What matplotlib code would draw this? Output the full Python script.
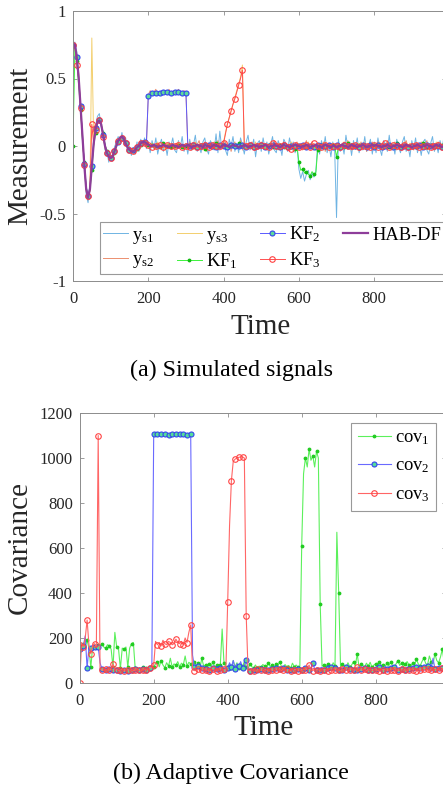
import numpy as np
import matplotlib.pyplot as plt

plt.rcParams['font.family'] = 'Liberation Serif'
plt.rcParams['mathtext.fontset'] = 'custom'
plt.rcParams['mathtext.rm'] = 'Liberation Serif'
plt.rcParams['mathtext.it'] = 'Liberation Serif:italic'
plt.rcParams['axes.unicode_minus'] = False

# time axis, one sample every 5 steps
t = np.arange(0, 1000, 5)

# ---- (a) sensor readings and filter outputs, in hundredths ----
ys1 = [75, 77, 70, 49, 33, 5, -12, -36, -42, -30, -18, 5, 15, 22, 24, 14, 11, -3, -4, -12,
       -6, -11, -1, 3, 7, 3, 10, 2, 6, -5, 0, -7, -1, -6, 3, -4, 5, 0, 6, -2,
       3, -5, 4, -2, 6, -6, 1, 5, -4, 2, -7, 3, 0, 6, -3, -5, 4, -1, 7, -4,
       2, -6, 5, -3, 1, 8, -4, 0, -5, 3, 6, -2, -6, 4, 1, -3, 9, -5, 11, -2,
       4, -3, -7, 5, 0, 7, -4, 2, -5, 6, 1, -6, 3, 8, -3, -1, 5, -8, 2, 4,
       -4, 6, -2, 3, -6, 1, 7, -3, -5, 4, 0, -7, 5, 2, -4, 6, -1, 3, -5, 1,
       -17, -24, -19, -26, -21, -18, -25, -20, -23, -19, 2, -6, 4, -3, 7, -5, 1, -8, 3, -2,
       -53, 5, -4, 2, -6, 8, -1, 3, -7, 4, -2, 6, -5, 1, -3, 7, -4, 0, 5, -6,
       3, -5, 6, -2, -7, 4, 1, -4, 8, -3, 2, -6, 5, -1, -5, 3, 7, -4, 0, -8,
       4, -2, 6, -5, 1, -7, 3, 5, -3, -6, 2, 7, -4, 1, -5, 4, -2, 6, -3, 2]
ys2 = [73, 76, 64, 54, 28, 10, -16, -31, -40, -33, -13, 1, 14, 17, 21, 15, 9, -2, -6, -7,
       -10, -7, -5, 2, 3, 7, 6, 4, 3, -2, -2, -5, -3, -4, 0, 1, 3, 2, 4, 1,
       38, 41, 39, 40, 42, 38, 40, 39, 41, 40, 38, 42, 39, 40, 41, 39, 42, 38, 40, 41,
       40, -2, 3, -1, 2, -3, 1, 4, -2, 0, 3, -4, 2, -1, 1, 3, -2, 4, -3, 1,
       -2, 3, -1, 2, -4, 1, 3, -2, 0, 4, -3, 1, -1, 2, -2, 3, 0, -3, 2, -1,
       3, -1, 2, -3, 1, 0, -2, 4, -1, 2, -3, 1, 3, -2, 0, -1, 2, -4, 1, 3,
       -1, 2, -3, 1, 4, -2, 0, 3, -1, -3, 2, 1, -2, 3, -4, 0, 2, -1, 1, -2,
       2, -3, 1, 0, 3, -2, 4, -1, -3, 2, 0, 1, -2, 3, -1, 2, -4, 1, 0, 3,
       -2, 1, 3, -1, 2, -3, 0, 4, -2, 1, -1, 3, -3, 2, 0, -2, 1, 4, -1, 2,
       1, -3, 2, 0, -2, 3, -1, 1, 4, -2, 0, 2, -3, 1, 3, -1, -2, 2, 0, 1]
ys3 = [74, 74, 67, 51, 31, 7, -14, -34, -38, -31, 80, 3, 11, 19, 18, 17, 7, 1, -4, -9,
       -8, -9, -3, 1, 5, 5, 8, 5, 1, 0, -4, -3, -5, -2, -1, 1, 2, 4, 2, 3,
       1, -2, 2, 0, -1, 3, -2, 1, 0, -3, 2, 1, -1, 2, -2, 0, 3, -1, 1, -2,
       0, 2, -1, 1, -2, 3, 0, -1, 2, -3, 1, 0, 2, -2, 1, -1, 3, 0, -2, 1,
       3, 10, 16, 21, 26, 31, 36, 41, 46, 51, 60, -1, 2, -2, 1, 0, -1, 3, -2, 1,
       -1, 2, 0, -2, 1, 3, -1, 0, 2, -3, 1, -1, 2, 0, -2, 1, 3, -2, 0, 1,
       2, -1, 1, 0, -2, 3, -1, 2, 0, -3, 1, 2, -1, 0, 3, -2, 1, -1, 2, 0,
       -1, 2, 0, 1, -2, 3, -1, 0, 2, -1, 1, -3, 2, 0, -1, 3, -2, 1, 0, -1,
       2, 0, -1, 3, -2, 1, 0, -1, 2, -3, 1, 2, -1, 0, 1, -2, 3, 0, -1, 2,
       0, -1, 2, 1, -2, 0, 3, -1, 1, -2, 2, 0, -1, 3, -2, 1, 0, 2, -1, 1]
kf1 = [0, 73, 63, 45, 27, 5, -12, -30, -38, -33, -18, 0, 10, 17, 20, 16, 10, 1, -4, -7,
       -8, -8, -5, -1, 3, 5, 6, 5, 3, 0, -2, -3, -4, -3, -2, 0, 1, 2, 2, 2,
       1, 0, 1, -1, 0, 1, -1, 0, 2, -1, 0, 1, -1, 1, 0, -1, 1, 0, -1, 1,
       0, -1, 1, 0, -1, 2, 0, -1, 1, 0, -2, 1, 0, 1, -1, 0, 2, -1, 1, 0,
       1, 0, -1, 1, 0, -1, 1, 0, 2, -1, 0, 1, -1, 0, 1, -2, 0, 1, 0, -1,
       0, 1, -1, 0, 1, 0, -1, 2, 0, -1, 1, 0, -1, 1, 0, 1, -1, 0, -2, 0,
       -12, -18, -17, -20, -19, -21, -22, -19, -21, -20, -3, -1, 1, 0, -1, 1, 0, -2, 1, 0,
       -8, -1, 0, 1, -1, 0, 2, -1, 0, 1, -1, 0, 1, -2, 0, 1, 0, -1, 1, 0,
       1, -1, 0, 2, -1, 0, 1, 0, -1, 1, 0, -1, 2, 0, -1, 1, 0, 1, -1, 0,
       0, 1, -1, 0, 1, -1, 2, 0, -1, 0, 1, -1, 0, 1, 0, -2, 1, 0, 1, -1]
kf2 = [75, 75, 66, 49, 30, 8, -13, -30, -37, -30, -15, 2, 13, 18, 19, 15, 8, 1, -5, -8,
       -9, -8, -4, 0, 3, 6, 6, 5, 2, -1, -3, -4, -3, -3, -1, 0, 2, 2, 3, 2,
       37, 38, 39, 39, 39, 40, 39, 39, 40, 39, 40, 40, 39, 40, 40, 39, 40, 40, 39, 39,
       39, 1, 0, -1, 1, 0, -1, 1, 0, -1, 1, 0, 1, -1, 0, 1, -1, 0, 1, 0,
       0, 1, -1, 0, 1, -1, 0, 1, 0, -1, 1, 0, -1, 0, 1, 0, -1, 1, 0, -1,
       1, 0, -1, 1, 0, 0, 1, -1, 0, 1, -1, 0, 1, 0, -1, 1, 0, -1, 0, 1,
       0, -1, 1, 0, -1, 1, 0, 1, -1, 0, 1, -1, 0, 1, 0, -1, 1, 0, -1, 0,
       1, 0, -1, 0, 1, -1, 0, 1, 0, -1, 0, 1, -1, 0, 1, 0, -1, 0, 1, 0,
       -1, 0, 1, 0, -1, 1, 0, -1, 1, 0, -1, 0, 1, 0, -1, 1, 0, 1, -1, 0,
       0, 1, 0, -1, 1, 0, -1, 0, 1, -1, 0, 1, 0, -1, 0, 1, -1, 0, 1, 0]
kf3 = [75, 74, 60, 50, 28, 7, -14, -32, -37, -33, 16, 1, 12, 17, 19, 16, 7, 0, -5, -8,
       -9, -7, -4, 1, 4, 6, 6, 5, 2, -1, -3, -4, -4, -3, -1, 0, 2, 3, 2, 2,
       1, 0, -1, 1, 0, -1, 1, 0, -1, 0, 1, -1, 0, 1, 0, -1, 1, 0, -1, 1,
       0, 1, -1, 0, 1, 0, -1, 1, 0, -1, 1, 0, -1, 0, 1, -1, 0, 1, 0, -1,
       2, 9, 16, 21, 26, 31, 35, 40, 45, 50, 56, 1, 0, -1, 1, 0, -1, 1, 0, -1,
       1, -1, 0, 1, -1, 0, 2, -1, 0, 1, 0, -1, 1, 0, -1, 1, -2, 0, 1, 0,
       -1, 1, 0, -1, 1, 0, -1, 0, 2, -1, 0, 1, -1, 0, 1, 0, -1, 1, 0, -1,
       0, 1, -1, 0, 1, -1, 0, 1, 0, -2, 1, 0, -1, 1, 0, -1, 0, 1, -1, 0,
       1, 0, -1, 1, 0, -1, 2, 0, -1, 0, 1, -1, 0, 1, -1, 0, 1, 0, -1, 1,
       0, -1, 1, 0, -1, 1, 0, -1, 0, 1, -1, 2, 0, -1, 1, 0, -1, 1, 0, -1]
hab = [74, 75, 66, 51, 30, 8, -14, -32, -38, -32, -15, 2, 12, 18, 19, 16, 8, 0, -5, -8,
       -9, -8, -4, 0, 4, 6, 7, 5, 2, -1, -3, -4, -4, -3, -1, 0, 2, 3, 3, 2,
       1, 0, 0, 1, 0, -1, 0, 0, 1, 0, 0, -1, 0, 1, 0, 0, -1, 0, 1, 0,
       0, 1, 0, -1, 0, 0, 1, 0, 0, -1, 1, 0, 0, -1, 0, 1, 0, 0, -1, 0,
       1, 0, 0, -1, 0, 1, 0, 0, -1, 0, 0, 1, 0, -1, 0, 0, 1, 0, 0, -1,
       0, 0, 1, 0, -1, 0, 0, 1, 0, 0, -1, 0, 1, 0, 0, -1, 0, 0, 1, 0,
       0, -1, 0, 0, 1, 0, -1, 0, 0, 1, 0, 0, -1, 0, 1, 0, 0, -1, 0, 0,
       -1, 0, 0, 1, 0, 0, -1, 0, 1, 0, 0, -1, 0, 0, 1, 0, -1, 0, 0, 1,
       0, 1, 0, 0, -1, 0, 0, 1, 0, -1, 0, 0, 1, 0, 0, -1, 0, 1, 0, 0,
       -1, 0, 0, 1, 0, -1, 0, 0, 1, 0, 0, -1, 0, 1, 0, 0, -1, 0, 0, 1]

# ---- (b) adaptive covariance of each filter ----
cov1 = [165, 150, 175, 160, 190, 155, 70, 160, 165, 150, 170, 165, 175, 160, 155, 170, 165, 150, 70, 225,
        160, 150, 65, 155, 150, 160, 70, 155, 175, 180, 65, 70, 60, 65, 70, 62, 68, 60, 66, 64,
        70, 85, 95, 72, 100, 80, 68, 90, 75, 110, 70, 85, 78, 95, 72, 88, 80, 120, 75, 92,
        85, 75, 95, 70, 90, 65, 110, 75, 80, 68, 85, 72, 95, 70, 78, 82, 80, 240, 90, 75,
        70, 85, 65, 100, 72, 90, 68, 80, 75, 95, 70, 60, 85, 72, 68, 80, 65, 75, 70, 82,
        75, 68, 90, 72, 80, 65, 85, 70, 95, 75, 68, 82, 70, 78, 65, 88, 72, 80, 70, 75,
        610, 930, 1000, 960, 1040, 990, 1010, 960, 1030, 1000, 350, 75, 80, 70, 85, 72, 68, 90, 75, 670,
        400, 70, 85, 75, 68, 90, 72, 80, 95, 75, 130, 70, 85, 78, 72, 88, 75, 92, 70, 80,
        85, 72, 95, 78, 80, 70, 88, 75, 92, 80, 70, 85, 100, 78, 90, 72, 85, 95, 80, 75,
        90, 80, 105, 85, 75, 95, 110, 88, 80, 120, 95, 85, 130, 100, 90, 115, 150, 95, 105, 150]
cov2 = [150, 160, 165, 210, 65, 160, 155, 165, 160, 158, 160, 90, 62, 58, 60, 55, 62, 58, 60, 55,
        58, 62, 55, 60, 57, 63, 55, 58, 60, 56, 62, 55, 59, 57, 61, 55, 58, 62, 66, 72,
        1105, 1106, 1105, 1104, 1105, 1106, 1105, 1105, 1104, 1106, 1105, 1105, 1106, 1104, 1105, 1105, 1106, 1105, 1104, 1105,
        1105, 124, 70, 60, 75, 58, 65, 55, 62, 70, 58, 60, 65, 55, 62, 58, 68, 60, 57, 63,
        65, 90, 70, 100, 62, 85, 75, 95, 68, 80, 102, 60, 55, 62, 58, 65, 57, 60, 63, 58,
        60, 65, 58, 70, 62, 57, 68, 60, 64, 58, 66, 61, 57, 63, 59, 67, 60, 58, 62, 65,
        58, 62, 65, 60, 57, 66, 90, 62, 58, 64, 60, 70, 57, 63, 68, 60, 72, 58, 65, 62,
        60, 66, 58, 63, 70, 57, 62, 68, 60, 65, 58, 72, 61, 57, 66, 62, 59, 70, 60, 64,
        62, 58, 70, 65, 60, 75, 62, 58, 66, 60, 70, 63, 58, 68, 61, 65, 59, 72, 62, 60,
        66, 60, 72, 58, 65, 62, 70, 60, 75, 64, 68, 110, 62, 70, 65, 72, 68, 80, 62, 70]
cov3 = [0, 180, 160, 200, 280, 170, 130, 165, 175, 160, 1100, 62, 58, 55, 62, 57, 60, 58, 85, 56,
        60, 55, 58, 62, 54, 57, 60, 56, 59, 55, 58, 61, 56, 54, 58, 60, 57, 62, 65, 70,
        80, 185, 170, 180, 165, 190, 175, 170, 185, 180, 170, 175, 195, 180, 175, 185, 170, 200, 180, 225,
        258, 60, 55, 58, 62, 54, 57, 60, 56, 59, 55, 58, 61, 56, 54, 58, 60, 57, 62, 56,
        360, 700, 900, 985, 995, 1000, 1003, 1005, 1005, 1000, 300, 58, 55, 60, 54, 57, 62, 56, 59, 55,
        57, 60, 55, 62, 58, 54, 60, 57, 63, 55, 59, 56, 61, 58, 54, 60, 57, 62, 55, 58,
        56, 60, 58, 63, 80, 57, 55, 61, 58, 60, 54, 62, 57, 59, 55, 61, 58, 56, 60, 57,
        58, 55, 62, 57, 60, 54, 59, 63, 56, 58, 72, 55, 60, 57, 62, 54, 59, 61, 56, 58,
        60, 57, 55, 62, 58, 61, 54, 59, 57, 63, 56, 60, 55, 58, 62, 57, 60, 54, 59, 61,
        57, 62, 55, 60, 58, 54, 61, 57, 63, 56, 59, 55, 62, 58, 60, 54, 66, 57, 61, 58]

meas_ticks = [-1, -0.5, 0, 0.5, 1]
meas_ticklabels = ['-1', '-0.5', '0', '0.5', '1']
time_ticks = [0, 200, 400, 600, 800]
cov_ticks = [0, 200, 400, 600, 800, 1000, 1200]

W, H = 443, 787
fig = plt.figure(figsize=(W / 100, H / 100), dpi=100)


def style_axes(ax):
    for s in ax.spines.values():
        s.set_color('#8c8c8c')
        s.set_linewidth(0.7)
    ax.tick_params(direction='in', top=True, right=True, length=3, width=0.6,
                   color='#8c8c8c', labelcolor='#262626', labelsize=12)
    ax.tick_params(axis='x', pad=7.5)
    ax.tick_params(axis='y', pad=5)


# ---------------- (a) Simulated signals ----------------
ax1 = fig.add_axes([73 / W, 1 - 281 / H, 372.7 / W, 270 / H])
h = 100.0
ax1.plot(t, np.array(ys1) / h, color='#6fb4e3', lw=0.7, label=r'y$_{\mathrm{s1}}$')
ax1.plot(t, np.array(ys2) / h, color='#ec8f6f', lw=0.7, label=r'y$_{\mathrm{s2}}$')
ax1.plot(t, np.array(ys3) / h, color='#f3cf6e', lw=0.7, label=r'y$_{\mathrm{s3}}$')
ax1.plot(t, np.array(kf1) / h, color='#3cf23c', lw=0.7, marker='.', ms=3.5,
         mfc='#11bb11', mec='#11bb11', markevery=2, label=r'KF$_1$')
ax1.plot(t, np.array(kf2) / h, color='#5a5aff', lw=0.7, marker='o', ms=3.6,
         mfc='#5ddc9a', mec='#3344ee', mew=0.8, markevery=2, label=r'KF$_2$')
ax1.plot(t, np.array(kf3) / h, color='#ff5050', lw=0.7, marker='o', ms=4,
         mfc='none', mec='#ff4040', mew=0.8, markevery=2, label=r'KF$_3$')
ax1.plot(t, np.array(hab) / h, color='#8e3d9a', lw=1.6, label='HAB-DF')

ax1.set_xlim(0, 990)
ax1.set_ylim(-1, 1)
ax1.set_xticks(time_ticks)
ax1.set_yticks(meas_ticks)
ax1.set_yticklabels(meas_ticklabels)
style_axes(ax1)

leg1 = ax1.legend(ncol=4, loc='upper left', bbox_to_anchor=(100 / W, 1 - 222 / H),
                  bbox_transform=fig.transFigure, fontsize=13.3, frameon=True,
                  fancybox=False, framealpha=1, edgecolor='#999999',
                  handlelength=1.35, handletextpad=0.25, columnspacing=1.2,
                  labelspacing=0.3, borderpad=0.15, borderaxespad=0)
leg1.get_frame().set_linewidth(0.8)

fig.text(20 / W, 1 - 146 / H, 'Measurement', rotation=90, ha='center', va='center',
         fontsize=21, color='#262626')
fig.text(261 / W, 1 - 327 / H, 'Time', ha='center', va='center', fontsize=21,
         color='#262626')
fig.text(231 / W, 1 - 370 / H, '(a) Simulated signals', ha='center', va='center',
         fontsize=17.3, color='black')

# ---------------- (b) Adaptive Covariance ----------------
ax2 = fig.add_axes([79.7 / W, 1 - 683 / H, 366.3 / W, 270 / H])
ax2.plot(t, cov1, color='#5cf05c', lw=0.8, marker='.', ms=3.5, mfc='#22cc22',
         mec='#22cc22', markevery=2, label=r'cov$_1$')
ax2.plot(t, cov2, color='#6a6aff', lw=0.8, marker='o', ms=3.6, mfc='#55dd99',
         mec='#3344ee', mew=0.8, markevery=2, label=r'cov$_2$')
ax2.plot(t, cov3, color='#ff6666', lw=0.8, marker='o', ms=4, mfc='none',
         mec='#ff4444', mew=0.8, markevery=2, label=r'cov$_3$')

ax2.set_xlim(0, 990)
ax2.set_ylim(0, 1200)
ax2.set_xticks(time_ticks)
ax2.set_yticks(cov_ticks)
style_axes(ax2)

leg2 = ax2.legend(loc='upper right', bbox_to_anchor=(436 / W, 1 - 422.5 / H),
                  bbox_transform=fig.transFigure, fontsize=13.3, frameon=True,
                  fancybox=False, framealpha=1, edgecolor='#999999',
                  handlelength=1.8, handletextpad=0.2, labelspacing=0.6,
                  borderpad=0.35, borderaxespad=0)
leg2.get_frame().set_linewidth(0.8)

fig.text(20 / W, 1 - 548 / H, 'Covariance', rotation=90, ha='center', va='center',
         fontsize=21, color='#262626')
fig.text(264 / W, 1 - 728 / H, 'Time', ha='center', va='center', fontsize=21,
         color='#262626')
fig.text(231 / W, 1 - 773 / H, '(b) Adaptive Covariance', ha='center', va='center',
         fontsize=17.3, color='black')

fig.savefig('out.png', dpi=100)
